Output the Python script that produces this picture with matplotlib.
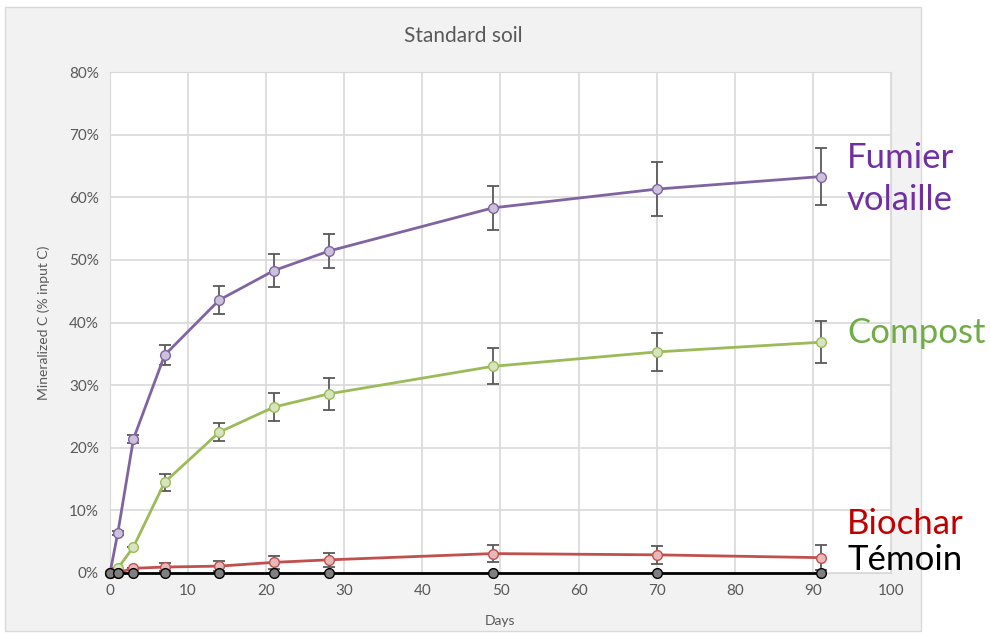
import matplotlib.pyplot as plt
from matplotlib.patches import Rectangle
from matplotlib.ticker import FuncFormatter

# data
days = [0, 1, 3, 7, 14, 21, 28, 49, 70, 91]

fumier = [0, 6.4, 21.4, 34.8, 43.6, 48.3, 51.4, 58.3, 61.3, 63.3]
fumier_err = [0, 0.3, 0.7, 1.6, 2.2, 2.7, 2.7, 3.5, 4.3, 4.5]

compost = [0, 0.75, 4.15, 14.5, 22.5, 26.5, 28.6, 33.0, 35.3, 36.85]
compost_err = [0, 0, 0, 1.35, 1.5, 2.2, 2.5, 2.85, 3.0, 3.35]

biochar = [0, 0.05, 0.75, 0.95, 1.1, 1.7, 2.1, 3.1, 2.9, 2.45]
biochar_err = [0, 0, 0, 0.7, 0.8, 1.0, 1.1, 1.35, 1.4, 2.0]

temoin = [0, 0, 0, 0, 0, 0, 0, 0, 0, 0]
temoin_err = [0, 0, 0, 0, 0, 0, 0, 0, 0, 0]

series = [
    ("Fumier\nvolaille", fumier, fumier_err, "#8064a2", "#ccc1da", "#7030a0", 179),
    ("Compost", compost, compost_err, "#9bbb59", "#d7e4bd", "#70ad47", 333),
    ("Biochar", biochar, biochar_err, "#c0504d", "#e6b9b8", "#c00000", 524),
    ("Témoin", temoin, temoin_err, "#000000", "#7f7f7f", "#000000", 560),
]

plt.rcParams['font.family'] = ['Lato', 'DejaVu Sans']

W, H = 990, 633
fig = plt.figure(figsize=(W / 100, H / 100), dpi=100)
fig.patch.set_facecolor("white")

# grey chart area
fig.patches.append(Rectangle((5 / W, 1 - 631 / H), 916 / W, 624 / H,
                             transform=fig.transFigure, facecolor="#f2f2f2",
                             edgecolor="#d9d9d9", linewidth=1, zorder=-5))

ax = fig.add_axes([110 / W, 1 - 573 / H, 781 / W, 501 / H])
ax.set_facecolor("white")

for name, vals, err, line_c, face_c, text_c, ty in series:
    ax.errorbar(days, vals, yerr=err, fmt="none", ecolor="#595959",
                elinewidth=1.3, capsize=4, capthick=1.3, zorder=3)
    ax.plot(days, vals, color=line_c, linewidth=2, marker="o", markersize=7,
            markerfacecolor=face_c, markeredgecolor=line_c, markeredgewidth=1,
            zorder=4, clip_on=False)
    fig.text(847 / W, 1 - ty / H, name, color=text_c, fontsize=25,
             ha="left", va="center", linespacing=1.35)

ax.set_xlim(0, 100)
ax.set_ylim(0, 80)
ax.set_xticks(range(0, 101, 10))
ax.set_yticks(range(0, 81, 10))
ax.yaxis.set_major_formatter(FuncFormatter(lambda v, p: f"{v:.0f}%"))
ax.grid(True, color="#d9d9d9", linewidth=1.2)
ax.set_axisbelow(True)
for s in ax.spines.values():
    s.set_color("#d9d9d9")
ax.tick_params(length=0, colors="#595959", labelsize=11, pad=8)

fig.text(463 / W, 1 - 36 / H, "Standard soil", color="#595959", fontsize=15,
         ha="center", va="center")
ax.set_xlabel("Days", color="#595959", fontsize=10, labelpad=12)
ax.set_ylabel("Mineralized C (% input C)", color="#595959", fontsize=10, labelpad=14)

fig.savefig("out.png", dpi=100, facecolor=fig.get_facecolor())
